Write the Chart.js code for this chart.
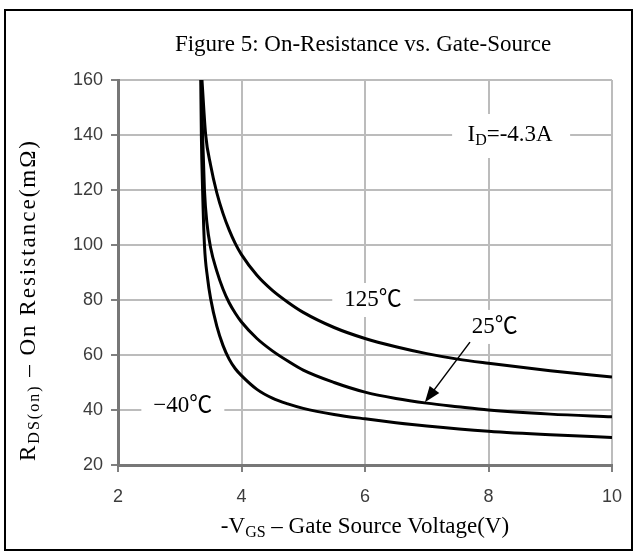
<!DOCTYPE html>
<html>
<head>
<meta charset="utf-8">
<script src="https://cdn.jsdelivr.net/npm/chart.js@4"></script>
<style>
  html, body { margin: 0; padding: 0; background: #fff; }
  #wrap { width: 637px; height: 556px; }
</style>
</head>
<body>
<div id="wrap"><canvas id="myChart" width="637" height="556"></canvas></div>
<script>
// -VGS (V) and RDS(on) (mOhm)
var vgs125 = [3.36, 3.42, 3.5, 3.6, 3.7, 3.8, 3.9, 4, 4.25, 4.5, 4.75, 5, 5.5, 6, 6.5, 7, 7.5, 8, 9, 10];
var r125   = [160, 140, 129, 119, 111.5, 105.5, 100.5, 96.5, 89, 83.5, 79.2, 75.5, 70, 66, 63, 60.5, 58.5, 57, 54.3, 52];
var vgs25  = [3.35, 3.37, 3.4, 3.44, 3.5, 3.6, 3.7, 3.8, 3.9, 4, 4.25, 4.5, 4.75, 5, 5.5, 6, 6.5, 7, 7.5, 8, 9, 10];
var r25    = [160, 140, 120, 108, 99, 90.5, 84, 79, 75.2, 72, 66, 61.5, 57.8, 54.5, 50, 46.5, 44.2, 42.5, 41.2, 40, 38.5, 37.5];
var vgsM40 = [3.34, 3.35, 3.37, 3.4, 3.45, 3.5, 3.6, 3.7, 3.8, 3.9, 4, 4.25, 4.5, 4.75, 5, 5.5, 6, 6.5, 7, 8, 9, 10];
var rM40   = [160, 140, 120, 100, 88, 80.5, 70.5, 63.5, 58.5, 55, 52.5, 47.5, 44.3, 42.2, 40.6, 38.4, 36.8, 35.4, 34.2, 32.3, 31, 30];

var xTicks = [2, 4, 6, 8, 10];
var yTicks = [20, 40, 60, 80, 100, 120, 140, 160];

function pts(xs, ys) {
    return xs.map(function (x, i) { return {x: x, y: ys[i]}; });
}

var SERIF = '"Liberation Serif", "Times New Roman", "Noto Sans CJK SC", serif';
var BIG = 23, SMALL = 16;

// text labels sitting on the grid, in data coordinates
var notes = [
    {text: '125\u2103', x: 6.13, y: 80},
    {text: '25\u2103', x: 8.1, y: 70.2},
    {text: '\u221240\u2103', x: 3.05, y: 41.5}
];

function drawSub(ctx, parts, x, y, align, spacing) {
    // parts: [text, isSub]
    var w = 0;
    ctx.letterSpacing = (spacing || 0) + 'px';
    parts.forEach(function (p) {
        ctx.font = (p[1] ? SMALL : BIG) + 'px ' + SERIF;
        w += ctx.measureText(p[0]).width;
    });
    var cx = align === 'center' ? x - w / 2 : x;
    parts.forEach(function (p) {
        ctx.font = (p[1] ? SMALL : BIG) + 'px ' + SERIF;
        ctx.fillText(p[0], cx, p[1] ? y + 6 : y);
        cx += ctx.measureText(p[0]).width;
    });
    ctx.letterSpacing = '0px';
    return w;
}

var decor = {
    id: 'decor',
    beforeDatasetsDraw: function (chart) {
        var ctx = chart.ctx, xs = chart.scales.x, ys = chart.scales.y;
        ctx.save();
        ctx.textBaseline = 'middle';
        notes.forEach(function (n) {
            ctx.font = BIG + 'px ' + SERIF;
            var px = xs.getPixelForValue(n.x), py = ys.getPixelForValue(n.y);
            var w = ctx.measureText(n.text).width;
            ctx.fillStyle = '#fff';
            ctx.fillRect(px - w / 2 - 12, py - 17, w + 24, 34);
            ctx.fillStyle = '#000';
            ctx.textAlign = 'center';
            ctx.fillText(n.text, px, py);
        });
        // I_D label
        var ix = xs.getPixelForValue(8.35), iy = ys.getPixelForValue(140);
        ctx.fillStyle = '#fff';
        ctx.fillRect(ix - 58, iy - 21, 118, 44);
        ctx.fillStyle = '#000';
        ctx.textAlign = 'left';
        drawSub(ctx, [['I', false], ['D', true], ['=-4.3A', false]], ix, iy, 'center');
        ctx.restore();
    },
    afterDraw: function (chart) {
        var ctx = chart.ctx, xs = chart.scales.x, ys = chart.scales.y, a = chart.chartArea;
        ctx.save();
        // arrow to the 25 C curve
        var x0 = xs.getPixelForValue(7.7), y0 = ys.getPixelForValue(64.7);
        var x1 = xs.getPixelForValue(6.97), y1 = ys.getPixelForValue(42.8);
        var ang = Math.atan2(y1 - y0, x1 - x0);
        ctx.strokeStyle = '#000';
        ctx.lineWidth = 1.5;
        ctx.beginPath();
        ctx.moveTo(x0, y0);
        ctx.lineTo(x1 - 8 * Math.cos(ang), y1 - 8 * Math.sin(ang));
        ctx.stroke();
        ctx.fillStyle = '#000';
        ctx.beginPath();
        ctx.moveTo(x1, y1);
        ctx.lineTo(x1 - 16 * Math.cos(ang) + 6 * Math.sin(ang), y1 - 16 * Math.sin(ang) - 6 * Math.cos(ang));
        ctx.lineTo(x1 - 16 * Math.cos(ang) - 6 * Math.sin(ang), y1 - 16 * Math.sin(ang) + 6 * Math.cos(ang));
        ctx.closePath();
        ctx.fill();

        // titles
        ctx.textBaseline = 'middle';
        var cx = (a.left + a.right) / 2;
        ctx.font = BIG + 'px ' + SERIF;
        ctx.textAlign = 'center';
        ctx.fillText('Figure 5: On-Resistance vs. Gate-Source', cx - 2, 45);
        ctx.textAlign = 'left';
        drawSub(ctx, [['-V', false], ['GS', true], [' \u2013 Gate Source Voltage(V)', false]], cx, 527, 'center');

        ctx.translate(29, 300);
        ctx.rotate(-Math.PI / 2);
        drawSub(ctx, [['R', false], ['DS(on)', true], [' \u2013 On Resistance(m\u03A9)', false]], 0, 0, 'center', 2);
        ctx.restore();

        // outer frame
        ctx.save();
        ctx.strokeStyle = '#000';
        ctx.lineWidth = 2;
        ctx.strokeRect(5, 10, 627, 540);
        ctx.restore();
    }
};

function curve(label, xs, ys) {
    return {
        label: label, data: pts(xs, ys), showLine: true, pointRadius: 0,
        borderColor: '#000', borderWidth: 3, cubicInterpolationMode: 'monotone', fill: false
    };
}

var ctx = document.getElementById('myChart').getContext('2d');
var myChart = new Chart(ctx, {
    type: 'scatter',
    data: {
        datasets: [
            curve('125\u2103', vgs125, r125),
            curve('25\u2103', vgs25, r25),
            curve('-40\u2103', vgsM40, rM40)
        ]
    },
    plugins: [decor],
    options: {
        responsive: false,
        animation: false,
        events: [],
        layout: {padding: {top: 80, right: 25, left: 0, bottom: 0}},
        plugins: {legend: {display: false}, tooltip: {enabled: false}},
        scales: {
            x: {
                type: 'linear', min: 2, max: 10,
                afterBuildTicks: function (s) { s.ticks = xTicks.map(function (v) { return {value: v}; }); },
                afterFit: function (s) { s.height = 91; },
                grid: {color: '#bcbcbc', lineWidth: 2, tickLength: 7, tickColor: '#808080'},
                border: {color: '#777', width: 3},
                ticks: {color: '#3c3c3c', font: {family: '"Liberation Sans", Arial, sans-serif', size: 18}, padding: 14}
            },
            y: {
                type: 'linear', min: 20, max: 160,
                afterBuildTicks: function (s) { s.ticks = yTicks.map(function (v) { return {value: v}; }); },
                afterFit: function (s) { s.width = 118; },
                grid: {color: '#bcbcbc', lineWidth: 2, tickLength: 7, tickColor: '#808080'},
                border: {color: '#777', width: 3},
                ticks: {color: '#3c3c3c', font: {family: '"Liberation Sans", Arial, sans-serif', size: 18}, padding: 8}
            }
        }
    }
});
</script>
</body>
</html>
